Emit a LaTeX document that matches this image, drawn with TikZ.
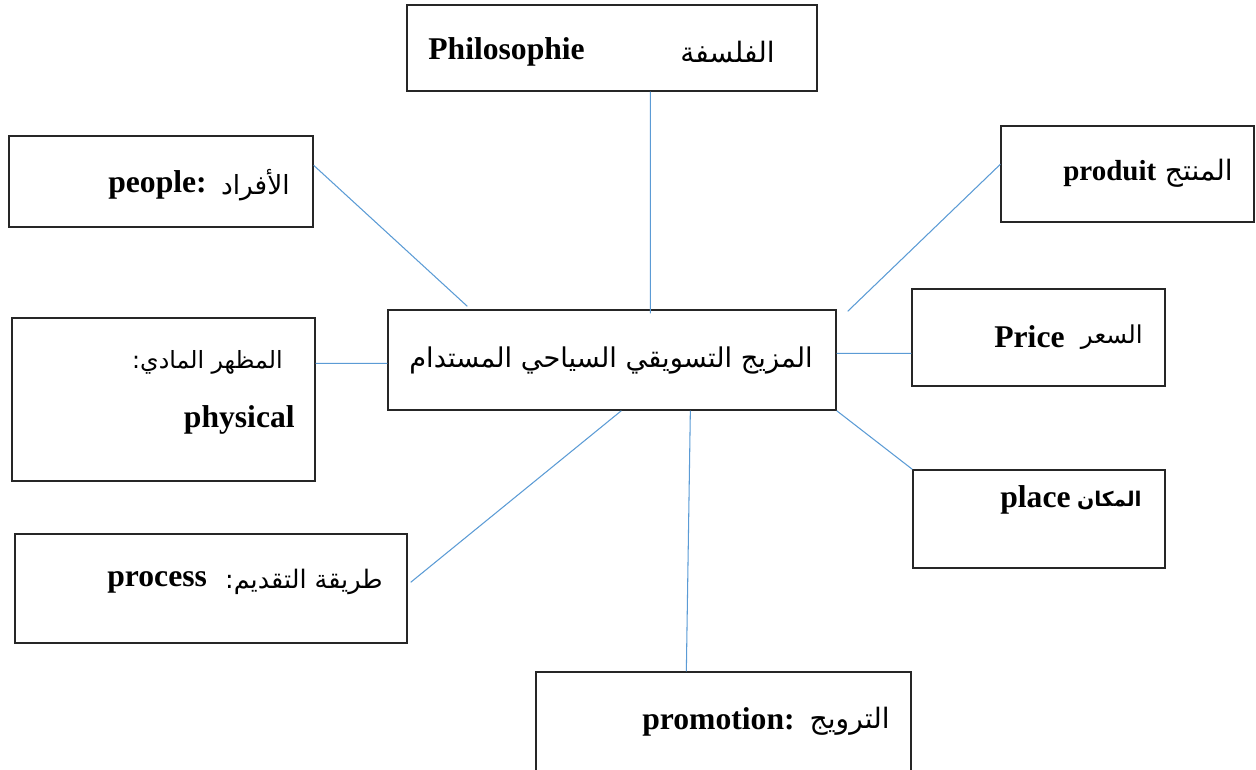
\documentclass[tikz,border=0pt]{standalone}
\usepackage{fontspec}
\setmainfont{Liberation Serif}
\newfontfamily\arabicfont[Script=Arabic]{DejaVu Sans}
\TeXXeTstate=1
\usetikzlibrary{calc}
\definecolor{linkblue}{HTML}{5B9BD5}
\newcommand\artext[1]{{\arabicfont\beginR #1\endR}}

\begin{document}
\begin{tikzpicture}[x=0.02cm,y=-0.02cm,
  box/.style={draw=black!85, line width=0.8pt, inner sep=0pt, fill=white},
  link/.style={draw=linkblue, line width=0.6pt},
  lat/.style={font=\fontsize{18}{22}\selectfont\bfseries, inner sep=0pt},
  arb/.style={font=\fontsize{16}{20}\selectfont, inner sep=0pt},
  arbig/.style={font=\fontsize{15.5}{24}\selectfont, inner sep=0pt}]
\useasboundingbox (0,0) rectangle (1256,769);
\clip (0,0) rectangle (1256,769);

% boxes
\node[box, minimum width=8.2cm,  minimum height=1.72cm] (phil)    at (612,48)    {};
\node[box, minimum width=6.08cm, minimum height=1.82cm] (people)  at (161,181.5) {};
\node[box, minimum width=5.06cm, minimum height=1.92cm] (produit) at (1127.5,174) {};
\node[box, minimum width=8.96cm, minimum height=2.0cm]  (mix)     at (612,360)   {};
\node[box, minimum width=6.06cm, minimum height=3.26cm] (physical) at (163.5,399.5) {};
\node[box, minimum width=5.06cm, minimum height=1.94cm] (price)   at (1038.5,337.5) {};
\node[box, minimum width=5.04cm, minimum height=1.96cm] (place)   at (1039,519)  {};
\node[box, minimum width=7.84cm, minimum height=2.18cm] (process) at (211,588.5)  {};
\node[box, minimum width=7.5cm,  minimum height=2.4cm]  (promo)   at (723.5,732) {};

% labels
\node[lat, anchor=west] (philL) at (428,52) {Philosophie};
\node[arb, anchor=east] (philA) at (775,52) {\artext{الفلسفة}};

\node[lat, anchor=west] (peopleL) at (108,185) {people:};
\node[arb, anchor=east, font=\fontsize{15}{20}\selectfont] (peopleA) at (290,185) {\artext{الأفراد}};

\node[lat, anchor=west, font=\fontsize{16.5}{20}\selectfont\bfseries] (produitL) at (1063,174) {produit};
\node[arb, anchor=east] (produitA) at (1233,173) {\artext{المنتج}};

\node[arbig] (mixA) at (611,360) {\artext{المزيج التسويقي السياحي المستدام}};

\node[arb, anchor=east, font=\fontsize{13.5}{18}\selectfont] (physA) at (283,362) {\artext{المظهر المادي:}};
\node[lat, anchor=east] (physL) at (295,420) {physical};

\node[lat, anchor=west] (priceL) at (994,337) {Price};
\node[arb, anchor=east, font=\fontsize{14}{18}\selectfont] (priceA) at (1143,337) {\artext{السعر}};

\node[lat, anchor=west] (placeL) at (1000,500) {place};
\node[arb, anchor=east, font=\fontsize{11.5}{16}\selectfont\bfseries] (placeA) at (1142,500) {\artext{المكان}};

\node[lat, anchor=west] (processL) at (107,582) {process};
\node[arb, anchor=east, font=\fontsize{14.5}{18}\selectfont] (processA) at (383,582) {\artext{طريقة التقديم:}};

\node[lat, anchor=west] (promoL) at (642,722) {promotion:};
\node[arb, anchor=east] (promoA) at (890,721) {\artext{الترويج}};

% connectors
\draw[link] ($(phil.south west)+(244,0)$) -- ($(mix.north west)+(263,4)$);
\draw[link] ($(people.north east)+(0,30)$) -- ($(mix.north west)+(80,-3)$);
\draw[link] ($(produit.north west)+(0,39)$) -- ($(mix.north east)+(11,2)$);
\draw[link] ($(mix.north east)+(0,44)$) -- ($(price.north west)+(0,65)$);
\draw[link] (mix.south east) -- (place.north west);
\draw[link] ($(physical.north east)+(0,46)$) -- ($(mix.north west)+(0,54)$);
\draw[link] ($(process.north east)+(3,49)$) -- ($(mix.south west)+(234,0)$);
\draw[link] ($(mix.south west)+(303,0)$) -- ($(promo.north west)+(151,0)$);
\end{tikzpicture}
\end{document}
